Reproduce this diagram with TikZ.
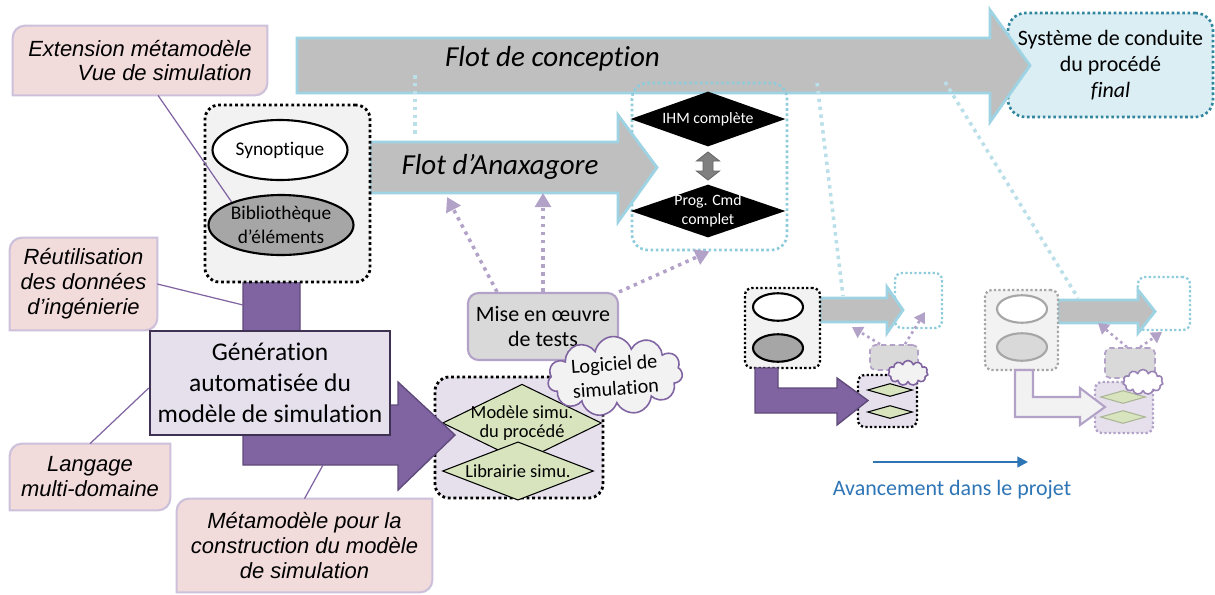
\documentclass[tikz,border=0pt]{standalone}
\usepackage{fontspec}
\setmainfont{Carlito}[Ligatures=NoCommon]
\newfontfamily\arialf{Liberation Sans}
\usetikzlibrary{shapes.geometric,shapes.symbols,arrows.meta,backgrounds}
\definecolor{gris}{HTML}{BFBFBF}
\definecolor{grisclaro}{HTML}{F2F2F2}
\definecolor{grismed}{HTML}{A6A6A6}
\definecolor{grismise}{HTML}{D9D9D9}
\definecolor{grisosc}{HTML}{808080}
\definecolor{azulborde}{HTML}{9DD3E2}
\definecolor{azulpunt}{HTML}{8ECBDB}
\definecolor{lineaazul}{HTML}{BADFE9}
\definecolor{violeta}{HTML}{8064A2}
\definecolor{violetaosc}{HTML}{604A7B}
\definecolor{genborde}{HTML}{3F3151}
\definecolor{lavanda}{HTML}{E5E0EC}
\definecolor{lavborde}{HTML}{B3A2C7}
\definecolor{rosa}{HTML}{F2DCDB}
\definecolor{rosaborde}{HTML}{CCC0DA}
\definecolor{verde}{HTML}{D7E4BD}
\definecolor{celeste}{HTML}{DBEEF4}
\definecolor{tealpunt}{HTML}{31859C}
\definecolor{azulav}{HTML}{2E75B6}

\begin{document}
\begin{tikzpicture}[font=\fontsize{11}{13.6}\selectfont,
  flecha/.style={fill=gris,draw=azulborde,line width=1.6pt},
  violfl/.style={fill=violeta,draw=violetaosc,line width=0.8pt},
  caja/.style={draw=black,fill=grisclaro,rounded corners=8pt,line width=1.6pt,dash pattern=on 1.6pt off 1.6pt},
  cajap/.style={draw=black,fill=grisclaro,rounded corners=4pt,line width=1.3pt,dash pattern=on 1.3pt off 1.3pt},
  elip/.style={ellipse,draw=black,line width=1.2pt,inner sep=0pt,align=center},
  rombo/.style={diamond,fill=black,text=white,inner sep=-3mm,align=center,font=\fontsize{9}{10.8}\selectfont},
  rombov/.style={diamond,fill=verde,draw=black,line width=0.6pt,inner sep=-3mm,align=center,font=\fontsize{10.5}{11}\selectfont},
  nube/.style={cloud,cloud puffs=11,cloud ignores aspect,fill=grisclaro,draw=violeta,line width=0.9pt,inner sep=0pt,align=center},
  flot/.style={font=\itshape\fontsize{16.5}{20}\selectfont},
  gen/.style={fill=lavanda,draw=genborde,line width=1.4pt,align=center,font=\fontsize{14.5}{17.6}\selectfont,minimum width=4.8cm,minimum height=2.08cm},
  mise/.style={fill=grismise,draw=lavborde,line width=1.2pt,rounded corners=6pt,align=center,font=\fontsize{12.5}{14.7}\selectfont},
  sist/.style={fill=celeste,draw=tealpunt,line width=1.5pt,dash pattern=on 1.5pt off 1.5pt,rounded corners=10pt,align=center,font=\fontsize{12.5}{14.7}\selectfont},
  gbox/.style={fill=grismise,draw=lavborde,line width=1pt,dash pattern=on 3pt off 2pt,rounded corners=3pt},
  nota/.style={align=center,font=\arialf\itshape\fontsize{12.5}{14.2}\selectfont},
  notafondo/.style={fill=rosa,draw=rosaborde,line width=1.2pt},
  conec/.style={draw=violeta,line width=0.7pt},
  punt/.style={draw=lavborde,line width=2pt,dash pattern=on 2pt off 2.6pt,-{Triangle[width=9pt,length=8pt]}},
  puntp/.style={draw=lavborde,line width=1.5pt,dash pattern=on 1.5pt off 2pt,-{Triangle[width=7pt,length=6pt]}},
  lazul/.style={draw=lineaazul,line width=2pt,dash pattern=on 2pt off 2.5pt},
  doble/.style={fill=grisosc,draw=grisosc!80!black,line width=0.5pt},
  avfl/.style={draw=azulav,line width=1.2pt,-{Triangle[width=6pt,length=6pt]}}]
  \useasboundingbox (0,0) rectangle (24.3,-11.88);
  % sistema final
  \node[sist,minimum width=4.1cm,minimum height=2.08cm] (sys) at (22.21,-1.3) {Système de conduite\\du procédé\\\textit{final}};
  % flot de conception
  \draw[flecha] (5.94,-0.76) -- (19.8,-0.76) -- (19.8,-0.2) -- (20.6,-1.31) -- (19.8,-2.44) -- (19.8,-1.86) -- (5.94,-1.86) -- cycle;
  \node[flot] (fc) at (11.05,-1.18) {Flot de conception};
  % lineas punteadas
  \coordinate (la1) at (8.3,-1.5);
  \coordinate (la2) at (8.3,-2.76);
  \coordinate (lb1) at (16.34,-1.66);
  \coordinate (lb2) at (16.86,-5.92);
  \coordinate (lc1) at (18.9,-1.64);
  \coordinate (lc2) at (21.56,-5.96);
  \draw[lazul] (la1) -- (la2);
  \draw[lazul] (lb1) -- (lb2);
  \draw[lazul] (lc1) -- (lc2);
  % bloque IHM
  \node[caja,draw=azulpunt,fill=none,rounded corners=9pt,line width=1.5pt,dash pattern=on 1.5pt off 1.5pt,minimum width=3.1cm,minimum height=3.34cm] (ihm) at (14.19,-3.33) {};
  \draw[flecha] (7.4,-2.84) -- (12.36,-2.84) -- (12.36,-2.3) -- (13.14,-3.35) -- (12.36,-4.44) -- (12.36,-3.86) -- (7.4,-3.86) -- cycle;
  \node[flot] (fa) at (10.0,-3.34) {Flot d’Anaxagore};
  \node[rombo,minimum width=3.1cm,minimum height=1.1cm] (ihmc) at (14.16,-2.38) {IHM complète};
  \node[rombo,minimum width=3.1cm,minimum height=1.06cm] (prog) at (14.16,-4.22) {Prog. Cmd\\complet};
  \draw[doble] (14.16,-3.04) -- (14.39,-3.22) -- (14.26,-3.22) -- (14.26,-3.42) -- (14.39,-3.42) -- (14.16,-3.6) -- (13.93,-3.42) -- (14.06,-3.42) -- (14.06,-3.22) -- (13.93,-3.22) -- cycle;
  % simulation
  \node[caja,fill=lavanda,minimum width=3.36cm,minimum height=2.42cm] (sim) at (10.38,-8.75) {};
  \node[rombov,minimum width=3.18cm,minimum height=1.26cm] (mod) at (10.44,-8.46) {Modèle simu.\\du procédé};
  \node[rombov,minimum width=3.02cm,minimum height=0.96cm] (lib) at (10.36,-9.42) {Librairie simu.};
  \node[mise,minimum width=3cm,minimum height=1.34cm] (mise) at (10.86,-6.53) {Mise en œuvre\\de tests};
  \node[nube,rotate=4,minimum width=2.7cm,minimum height=1.54cm,font=\fontsize{11.5}{14}\selectfont] (logi) at (12.3,-7.52) {Logiciel de\\simulation};
  % generation
  \draw[violfl] (4.86,-5.64) -- (6.0,-5.64) -- (6.0,-8.1) -- (7.96,-8.1) -- (7.96,-7.64) -- (9.1,-8.7) -- (7.96,-9.8) -- (7.96,-9.3) -- (4.86,-9.3) -- cycle;
  \node[caja,minimum width=3.3cm,minimum height=3.54cm] (vue) at (5.75,-3.87) {};
  \node[elip,fill=white,minimum width=2.7cm,minimum height=1.2cm] (syn) at (5.6,-3.0) {Synoptique};
  \node[elip,fill=grismed,minimum width=2.9cm,minimum height=1.2cm] (bib) at (5.62,-4.5) {Bibliothèque\\d’éléments};
  \node[gen] (gen) at (5.4,-7.66) {Génération\\automatisée du\\modèle de simulation};
  % notas
  \node[nota,align=right,minimum width=5.08cm,minimum height=1.38cm] (ext) at (2.8,-1.21) {Extension métamodèle\\Vue de simulation};
  \node[nota,minimum width=2.94cm,minimum height=1.84cm] (reu) at (1.67,-5.68) {Réutilisation\\des données\\d’ingénierie};
  \node[nota,minimum width=3.2cm,minimum height=1.32cm] (lang) at (1.8,-9.54) {Langage\\multi-domaine};
  \node[nota,minimum width=5.1cm,minimum height=1.86cm] (meta) at (6.09,-10.91) {Métamodèle pour la\\construction du modèle\\de simulation};
  \begin{scope}[on background layer]
    \foreach \n in {ext,reu,lang,meta}
      \draw[notafondo] (\n.south west) -- ([yshift=-7pt]\n.north west) arc[start angle=180,end angle=90,radius=7pt] -- (\n.north east) -- ([yshift=7pt]\n.south east) arc[start angle=0,end angle=-90,radius=7pt] -- cycle;
  \end{scope}
  \coordinate (pv) at (4.86,-6.1);
  \coordinate (ph) at (6.46,-9.3);
  \draw[conec] ([xshift=0.36cm]ext.south) -- (bib.155);
  \draw[conec] (reu.east) -- (pv);
  \draw[conec] (lang.north) -- ([yshift=-0.1cm]gen.west);
  \draw[conec] (meta.north) -- (ph);
  % tests
  \coordinate (ta) at (8.94,-3.94);
  \coordinate (tb) at (10.86,-3.86);
  \draw[punt] ([xshift=-0.92cm]mise.north) -- (ta);
  \draw[punt] (mise.north) -- (tb);
  \draw[punt] (mise.north east) -- (ihm.south);
  % etape 1
  \node[cajap,draw=azulpunt,fill=none,minimum width=0.94cm,minimum height=1.1cm] (f1) at (18.37,-6.01) {};
  \draw[flecha] (16.4,-5.96) -- (17.74,-5.96) -- (17.74,-5.74) -- (18.06,-6.2) -- (17.74,-6.66) -- (17.74,-6.44) -- (16.4,-6.44) -- cycle;
  \node[cajap,minimum width=1.5cm,minimum height=1.6cm] (e1) at (15.65,-6.56) {};
  \node[elip,fill=white,minimum width=1.0cm,minimum height=0.55cm] (s1) at (15.56,-6.14) {};
  \node[elip,fill=grismed,minimum width=1.0cm,minimum height=0.55cm] (b1) at (15.56,-6.96) {};
  \node[gbox,minimum width=0.96cm,minimum height=0.5cm] (g1) at (17.88,-7.15) {};
  \coordinate (p1a) at (17.04,-6.54);
  \coordinate (p1b) at (18.5,-6.24);
  \draw[puntp] ([xshift=-0.28cm]g1.north) -- (p1a);
  \draw[puntp] ([xshift=0.22cm]g1.north) -- (p1b);
  \node[cajap,fill=lavanda,minimum width=1.18cm,minimum height=1.04cm] (l1) at (17.75,-8.02) {};
  \node[rombov,minimum width=0.9cm,minimum height=0.26cm] (d1a) at (17.8,-7.8) {};
  \node[rombov,minimum width=0.9cm,minimum height=0.26cm] (d1b) at (17.8,-8.24) {};
  \node[nube,minimum width=0.8cm,minimum height=0.5cm] (n1) at (18.16,-7.46) {};
  \draw[violfl] (15.1,-7.36) -- (15.56,-7.36) -- (15.56,-7.76) -- (16.74,-7.76) -- (16.74,-7.56) -- (17.36,-8.01) -- (16.74,-8.5) -- (16.74,-8.26) -- (15.1,-8.26) -- cycle;
  % etape 2
  \node[cajap,draw=azulpunt,fill=none,minimum width=1.04cm,minimum height=1.06cm] (f2) at (23.28,-6.07) {};
  \draw[flecha] (21.16,-6.0) -- (22.76,-6.0) -- (22.76,-5.8) -- (23.1,-6.23) -- (22.76,-6.66) -- (22.76,-6.46) -- (21.16,-6.46) -- cycle;
  \node[cajap,draw=grismed,minimum width=1.46cm,minimum height=1.6cm] (e2) at (20.43,-6.6) {};
  \node[elip,draw=grismed,fill=white,minimum width=1.0cm,minimum height=0.55cm] (s2) at (20.44,-6.18) {};
  \node[elip,draw=grismed,fill=grismise,minimum width=1.0cm,minimum height=0.55cm] (b2) at (20.44,-6.94) {};
  \node[gbox,minimum width=1.0cm,minimum height=0.6cm] (g2) at (22.6,-7.26) {};
  \coordinate (p2a) at (21.96,-6.46);
  \coordinate (p2b) at (23.24,-6.64);
  \draw[puntp] ([xshift=-0.06cm]g2.north) -- (p2a);
  \draw[puntp] ([xshift=0.2cm]g2.north) -- (p2b);
  \node[cajap,draw=lavborde,fill=lavanda,minimum width=1.16cm,minimum height=1.02cm] (l2) at (22.48,-8.15) {};
  \node[rombov,draw=verde!80!black,minimum width=0.9cm,minimum height=0.26cm] (d2a) at (22.46,-7.94) {};
  \node[rombov,draw=verde!80!black,minimum width=0.9cm,minimum height=0.26cm] (d2b) at (22.46,-8.34) {};
  \node[nube,fill=white,draw=violeta!80,minimum width=0.8cm,minimum height=0.5cm] (n2) at (22.86,-7.64) {};
  \draw[violfl,fill=grisclaro,draw=lavborde,line width=1.2pt] (20.3,-7.4) -- (20.66,-7.4) -- (20.66,-7.94) -- (21.6,-7.94) -- (21.6,-7.76) -- (22.1,-8.14) -- (21.6,-8.5) -- (21.6,-8.34) -- (20.3,-8.34) -- cycle;
  % avancement
  \coordinate (av1) at (17.46,-9.24);
  \coordinate (av2) at (20.56,-9.24);
  \draw[avfl] (av1) -- (av2);
  \node[text=azulav,font=\fontsize{12.5}{15}\selectfont] (avance) at (19.04,-9.8) {Avancement dans le projet};
\end{tikzpicture}
\end{document}
